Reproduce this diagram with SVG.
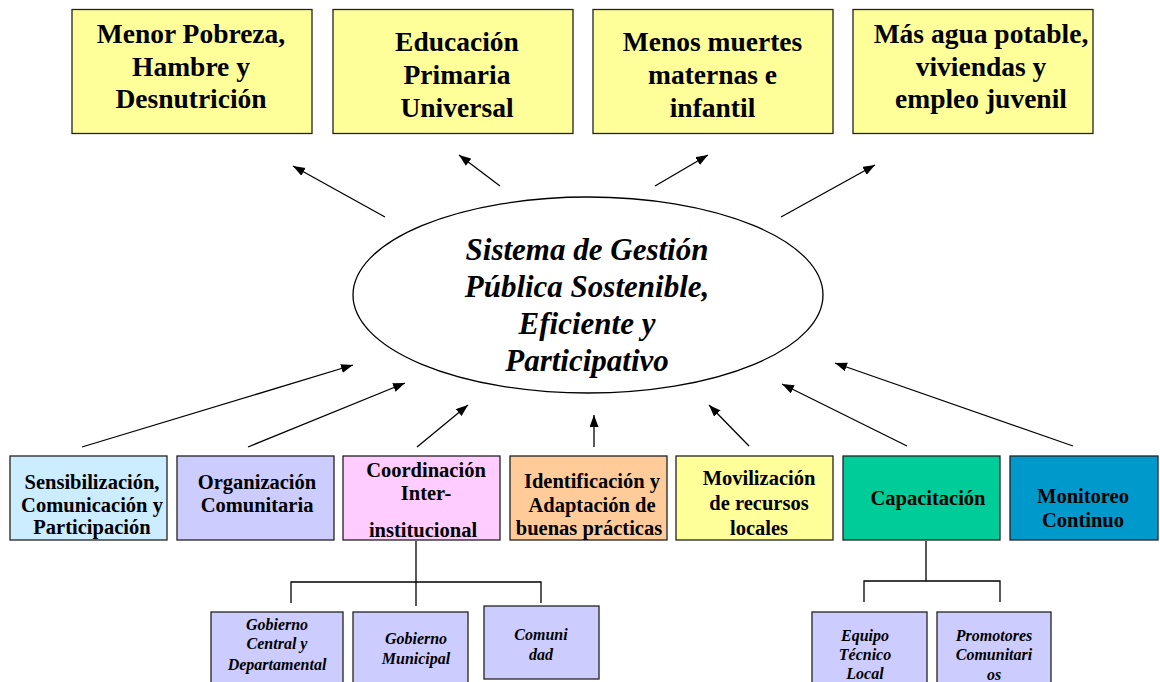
<svg xmlns="http://www.w3.org/2000/svg" width="1160" height="682" viewBox="0 0 1160 682">
<defs>
<marker id="ah" markerUnits="userSpaceOnUse" markerWidth="13" markerHeight="10" refX="12" refY="4.5" orient="auto">
<path d="M0,0 L12,4.5 L0,9 z" fill="#000"/>
</marker>
<style>
.box{stroke:#222;stroke-width:1.3}
.t{font-family:"Liberation Serif","Times New Roman",serif;font-weight:bold;text-anchor:middle;fill:#000}
.top{font-size:27.5px}
.mid{font-size:20.5px}
.el{font-size:31px;font-style:italic}
.sm{font-size:16px;font-style:italic}
.arr{stroke:#000;stroke-width:1.3;fill:none;marker-end:url(#ah)}
.tree{stroke:#000;stroke-width:1.3;fill:none}
</style>
</defs>
<rect width="1160" height="682" fill="#fff"/>

<g id="goal1"><rect class="box" x="72" y="9.5" width="240" height="124" fill="#FFFF99"/>
<text class="t top" x="191" y="43">Menor Pobreza,</text><text class="t top" x="191" y="76">Hambre y</text><text class="t top" x="191" y="108">Desnutrición</text></g>
<g id="goal2"><rect class="box" x="333" y="9.5" width="240" height="124" fill="#FFFF99"/>
<text class="t top" x="457" y="51">Educación</text><text class="t top" x="457" y="84">Primaria</text><text class="t top" x="457" y="117">Universal</text></g>
<g id="goal3"><rect class="box" x="593" y="9.5" width="240" height="124" fill="#FFFF99"/>
<text class="t top" x="712.5" y="51">Menos muertes</text><text class="t top" x="712.5" y="84">maternas e</text><text class="t top" x="712.5" y="117">infantil</text></g>
<g id="goal4"><rect class="box" x="853" y="9.5" width="240" height="124" fill="#FFFF99"/>
<text class="t top" x="981" y="43">Más agua potable,</text><text class="t top" x="981" y="76">viviendas y</text><text class="t top" x="981" y="108">empleo juvenil</text></g>

<g id="center"><ellipse cx="588" cy="295" rx="235" ry="98" fill="#fff" stroke="#000" stroke-width="1.3"/>
<text class="t el" x="587" y="260">Sistema de Gestión</text>
<text class="t el" x="587" y="297">Pública Sostenible,</text>
<text class="t el" x="587" y="334">Eficiente y</text>
<text class="t el" x="587" y="371">Participativo</text></g>

<g id="connectors">
<line class="arr" x1="385" y1="217" x2="293" y2="166"/>
<line class="arr" x1="500" y1="186" x2="459" y2="155"/>
<line class="arr" x1="655" y1="186" x2="708" y2="155"/>
<line class="arr" x1="781" y1="217" x2="875" y2="165"/>
<line class="arr" x1="82" y1="447" x2="353" y2="365"/>
<line class="arr" x1="248" y1="447" x2="405" y2="383"/>
<line class="arr" x1="417" y1="447" x2="468" y2="405"/>
<line class="arr" x1="594" y1="447" x2="594" y2="415"/>
<line class="arr" x1="749" y1="446" x2="709" y2="405"/>
<line class="arr" x1="907" y1="446" x2="782" y2="384"/>
<line class="arr" x1="1073" y1="446" x2="835" y2="363"/>
<path class="tree" d="M416,541 V606 M291,603 V582 H541 V603"/>
<path class="tree" d="M926,541 V581 M864,602 V581 H1000 V602"/>
</g>

<g id="n1"><rect class="box" x="10" y="456" width="157" height="84" fill="#CCECFF"/>
<text class="t mid" x="92" y="489">Sensibilización,</text><text class="t mid" x="92" y="511.5">Comunicación y</text><text class="t mid" x="92" y="534">Participación</text></g>
<g id="n2"><rect class="box" x="177" y="456" width="157" height="84" fill="#CCCCFF"/>
<text class="t mid" x="257" y="489">Organización</text><text class="t mid" x="257" y="511.5">Comunitaria</text></g>
<g id="n3"><rect class="box" x="343" y="456" width="157" height="84" fill="#FFCCFF"/>
<text class="t mid" x="426" y="477">Coordinación</text><text class="t mid" x="426" y="500">Inter-</text><text class="t mid" x="423" y="537">institucional</text></g>
<g id="n4"><rect class="box" x="510" y="456" width="157" height="84" fill="#FFCC99"/>
<text class="t mid" x="592" y="488">Identificación y</text><text class="t mid" x="592" y="511.5">Adaptación de</text><text class="t mid" x="589" y="535">buenas prácticas</text></g>
<g id="n5"><rect class="box" x="676" y="456" width="157" height="84" fill="#FFFF99"/>
<text class="t mid" x="759" y="485">Movilización</text><text class="t mid" x="759" y="510">de recursos</text><text class="t mid" x="759" y="535">locales</text></g>
<g id="n6"><rect class="box" x="843" y="456" width="157" height="84" fill="#00CC99"/>
<text class="t mid" x="928" y="505">Capacitación</text></g>
<g id="n7"><rect class="box" x="1010" y="456" width="148" height="84" fill="#0099CC"/>
<text class="t mid" x="1083" y="503">Monitoreo</text><text class="t mid" x="1083" y="527">Continuo</text></g>

<g id="s1"><rect class="box" x="211" y="612" width="132" height="80" fill="#CCCCFF"/>
<text class="t sm" x="277" y="630">Gobierno</text><text class="t sm" x="277" y="649">Central y</text><text class="t sm" x="277" y="670">Departamental</text></g>
<g id="s2"><rect class="box" x="353" y="612" width="115" height="80" fill="#CCCCFF"/>
<text class="t sm" x="416" y="644">Gobierno</text><text class="t sm" x="416" y="664">Municipal</text></g>
<g id="s3"><rect class="box" x="484" y="606" width="115" height="73" fill="#CCCCFF"/>
<text class="t sm" x="541" y="640">Comuni</text><text class="t sm" x="541" y="660">dad</text></g>
<g id="s4"><rect class="box" x="812" y="612" width="115" height="80" fill="#CCCCFF"/>
<text class="t sm" x="865" y="641">Equipo</text><text class="t sm" x="865" y="660">Técnico</text><text class="t sm" x="865" y="679">Local</text></g>
<g id="s5"><rect class="box" x="937" y="612" width="114" height="80" fill="#CCCCFF"/>
<text class="t sm" x="994" y="641">Promotores</text><text class="t sm" x="994" y="660">Comunitari</text><text class="t sm" x="994" y="680">os</text></g>
</svg>
